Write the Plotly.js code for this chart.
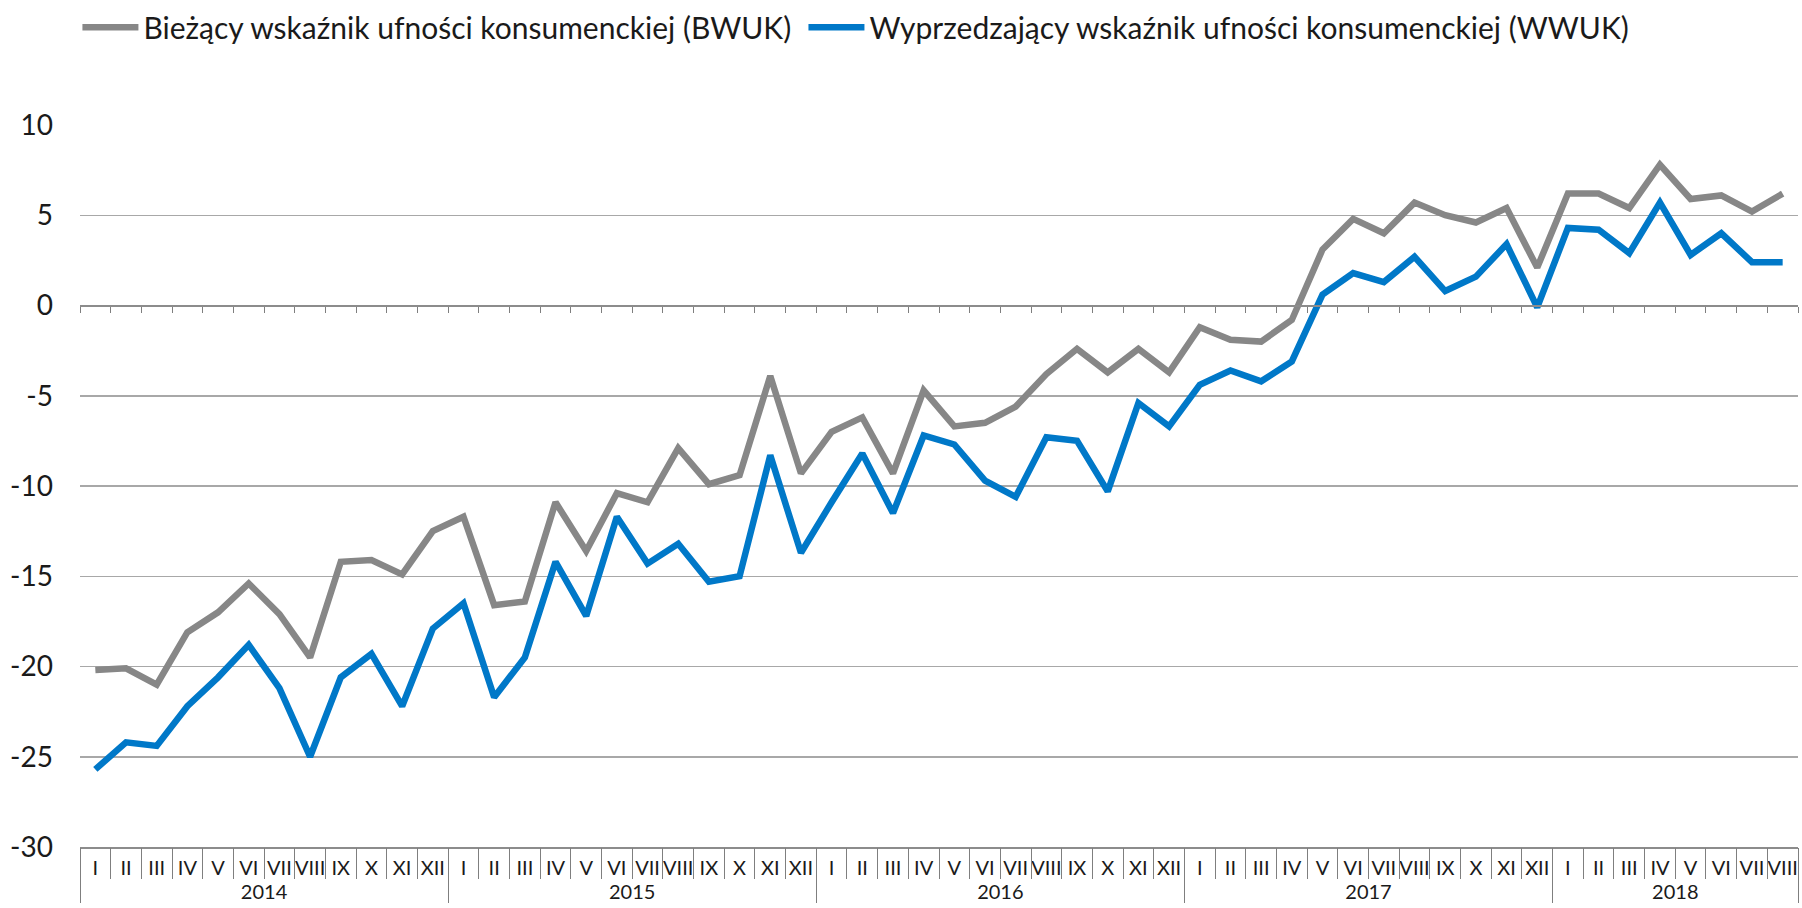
<!DOCTYPE html>
<html>
<head>
<meta charset="utf-8">
<script src="https://cdn.plot.ly/plotly-3.0.1.min.js"></script>
<style>
html, body { margin: 0; padding: 0; background: #ffffff; }
#chart { width: 1802px; height: 908px; }
</style>
</head>
<body>
<div id="chart"></div>
<script>
// ---- data ----
const years = ['2014', '2015', '2016', '2017', '2018'];
const monthNames = ['I', 'II', 'III', 'IV', 'V', 'VI', 'VII', 'VIII', 'IX', 'X', 'XI', 'XII'];
const monthsInLastYear = 8;

const bwuk = [
  -20.2, -20.1, -21.0, -18.1, -17.0, -15.4, -17.1, -19.5, -14.2, -14.1, -14.9, -12.5,
  -11.7, -16.6, -16.4, -10.9, -13.6, -10.4, -10.9, -7.9, -9.9, -9.4, -3.9, -9.3,
  -7.0, -6.2, -9.3, -4.7, -6.7, -6.5, -5.6, -3.8, -2.4, -3.7, -2.4, -3.7,
  -1.2, -1.9, -2.0, -0.8, 3.1, 4.8, 4.0, 5.7, 5.0, 4.6, 5.4, 2.1,
  6.2, 6.2, 5.4, 7.8, 5.9, 6.1, 5.2, 6.2
];
const wwuk = [
  -25.7, -24.2, -24.4, -22.2, -20.6, -18.8, -21.2, -25.0, -20.6, -19.3, -22.2, -17.9,
  -16.5, -21.7, -19.5, -14.2, -17.2, -11.7, -14.3, -13.2, -15.3, -15.0, -8.3, -13.7,
  -10.9, -8.2, -11.5, -7.2, -7.7, -9.7, -10.6, -7.3, -7.5, -10.3, -5.4, -6.7,
  -4.4, -3.6, -4.2, -3.1, 0.6, 1.8, 1.3, 2.7, 0.8, 1.6, 3.4, -0.1,
  4.3, 4.2, 2.9, 5.7, 2.8, 4.0, 2.4, 2.4
];
const seriesNames = [
  'Bieżący wskaźnik ufności konsumenckiej (BWUK)',
  'Wyprzedzający wskaźnik ufności konsumenckiej (WWUK)'
];
const yTickVals = [-30, -25, -20, -15, -10, -5, 0, 5, 10];
const yTickText = ['-30', '-25', '-20', '-15', '-10', '-5', '0', '5', '10'];

// ---- build categories ----
const yearCat = [];
const monthCat = [];
years.forEach((y, yi) => {
  const n = (yi === years.length - 1) ? monthsInLastYear : 12;
  for (let m = 0; m < n; m++) { yearCat.push(y); monthCat.push(monthNames[m]); }
});
const nCat = monthCat.length;
const boundaries = [];
for (let i = 0; i <= nCat; i++) boundaries.push(i - 0.5);

const FONT = 'Lato, "Open Sans", "DejaVu Sans", sans-serif';
const GRAY = '#878787';
const BLUE = '#0078c8';
const AXIS_GRAY = '#7f7f7f';

const traces = [
  {
    type: 'scatter', mode: 'lines', name: seriesNames[0],
    x: [yearCat, monthCat], y: bwuk,
    line: { color: GRAY, width: 6.5, shape: 'linear' },
    legend: 'legend',
    hoverinfo: 'y'
  },
  {
    type: 'scatter', mode: 'lines', name: seriesNames[1],
    x: [yearCat, monthCat], y: wwuk,
    line: { color: BLUE, width: 6.5, shape: 'linear' },
    legend: 'legend2',
    hoverinfo: 'y'
  },
  { type: 'scatter', mode: 'lines', x: [], y: [], xaxis: 'x2', showlegend: false, hoverinfo: 'skip' },
  { type: 'scatter', mode: 'lines', x: [], y: [], xaxis: 'x3', showlegend: false, hoverinfo: 'skip' }
];

const legendCommon = {
  orientation: 'h', xanchor: 'left', xref: 'paper',
  yref: 'container', y: 0.970, yanchor: 'middle',
  font: { family: FONT, size: 30, color: '#1a1a1a' },
  itemwidth: 56, bgcolor: 'rgba(0,0,0,0)', borderwidth: 0
};

const layout = {
  width: 1802, height: 908,
  margin: { l: 80, r: 4, t: 125, b: 61, pad: 0 },
  paper_bgcolor: '#ffffff', plot_bgcolor: '#ffffff',
  font: { family: FONT, color: '#1a1a1a', size: 20 },
  showlegend: true,
  legend: Object.assign({}, legendCommon, { x: -0.0015 }),
  legend2: Object.assign({}, legendCommon, { x: 0.4211 }),
  // main category axis: month labels + year labels + year dividers
  xaxis: {
    type: 'multicategory',
    range: [-0.5, nCat - 0.5],
    showgrid: false, zeroline: false,
    showline: true, linecolor: '#8c8c8c', linewidth: 1.5,
    ticks: 'outside', tickson: 'boundaries', ticklen: 40,
    tickcolor: 'rgba(0,0,0,0)', tickwidth: 1,
    ticklabelstandoff: 2,
    tickangle: 0,
    showdividers: true, dividercolor: AXIS_GRAY, dividerwidth: 1,
    tickfont: { family: FONT, size: 20, color: '#1a1a1a' },
    fixedrange: true
  },
  // short ticks on the zero line
  xaxis2: {
    overlaying: 'x', anchor: 'free', position: 0.75, side: 'bottom',
    range: [-0.5, nCat - 0.5],
    tickmode: 'array', tickvals: boundaries,
    ticks: 'outside', ticklen: 6, tickcolor: AXIS_GRAY, tickwidth: 1,
    showline: true, linecolor: '#8c8c8c', linewidth: 2,
    showticklabels: false, showgrid: false, zeroline: false, fixedrange: true
  },
  // month cell borders in the first label row
  xaxis3: {
    overlaying: 'x', anchor: 'y', side: 'bottom',
    range: [-0.5, nCat - 0.5],
    tickmode: 'array', tickvals: boundaries,
    ticks: 'outside', ticklen: 31, tickcolor: AXIS_GRAY, tickwidth: 1,
    showline: false, showticklabels: false, showgrid: false, zeroline: false, fixedrange: true
  },
  yaxis: {
    range: [-30, 10],
    tickmode: 'array', tickvals: yTickVals, ticktext: yTickText,
    showgrid: true, gridcolor: '#a8a8a8', gridwidth: 1.5,
    zeroline: false, showline: false, ticks: '',
    ticklabelstandoff: 26,
    tickfont: { family: FONT, size: 28, color: '#1a1a1a' },
    fixedrange: true
  }
};

Plotly.newPlot('chart', traces, layout, { displayModeBar: false, staticPlot: true });
</script>
</body>
</html>
